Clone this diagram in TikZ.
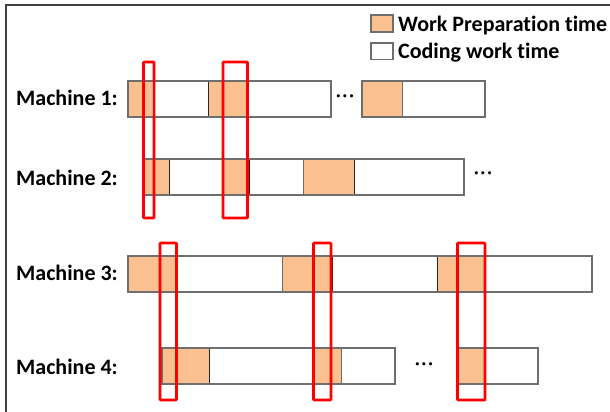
\documentclass[tikz,border=0pt]{standalone}
\usepackage{fontspec}
\setmainfont{Carlito}[Ligatures=CommonOff]
\definecolor{prepfill}{HTML}{FAC090}
\definecolor{barline}{HTML}{6E6E6E}
\definecolor{frameline}{HTML}{404040}
\begin{document}
\begin{tikzpicture}[x=1pt,y=-1pt,
  prep/.style={fill=prepfill},
  barbox/.style={draw=barline,line width=1.1pt},
  sepline/.style={draw=black!85,line width=1pt},
  window/.style={draw=red,line width=2.6pt,rounded corners=0.6pt},
  lbl/.style={font=\fontsize{22}{25}\selectfont\bfseries,anchor=base west,inner sep=0pt},
  dots/.style={font=\fontsize{20}{22}\selectfont\boldmath,inner sep=0pt,text=black},
  legbox/.style={draw=barline,line width=1.1pt}]
\useasboundingbox (0,0) rectangle (610,412);
% frame (top and left edges)
\draw[frameline,line width=1.5pt] (6,412) -- (6,5) -- (610,5);

% legend
\draw[legbox,prep] (371,15) rectangle (393,32);
\draw[legbox,fill=white] (371,43) rectangle (393,59.5);
\node[lbl] (legA) at (398,31.5) {Work Preparation time};
\node[lbl] (legB) at (398,59) {Coding work time};

% machine labels
\node[lbl] (m1) at (16,105.5) {Machine 1:};
\node[lbl] (m2) at (16,185) {Machine 2:};
\node[lbl] (m3) at (16,280) {Machine 3:};
\node[lbl] (m4) at (16,374) {Machine 4:};

% Machine 1
\fill[prep] (128,81) rectangle (152,117);
\fill[prep] (208,81) rectangle (247,117);
\draw[sepline] (208,81) -- (208,117);
\draw[sepline] (247,81) -- (247,117);
\draw[barbox] (128,81) rectangle (331,117);
\fill[prep] (362,81) rectangle (402,117);
\draw[sepline,draw=barline] (402,81) -- (402,117);
\draw[barbox] (362,81) rectangle (485,117);
\node[dots] (d1) at (345,97) {${\cdot}{\cdot}{\cdot}$};

% Machine 2
\fill[prep] (144,159) rectangle (169,195);
\fill[prep] (223,159) rectangle (249,195);
\fill[prep] (303,159) rectangle (354,195);
\draw[sepline] (169,159) -- (169,195);
\draw[sepline] (249,159) -- (249,195);
\draw[sepline,draw=barline] (303,159) -- (303,195);
\draw[sepline] (354,159) -- (354,195);
\draw[barbox] (144,159) rectangle (464,195);
\node[dots] (d2) at (483,174) {${\cdot}{\cdot}{\cdot}$};

% Machine 3
\fill[prep] (128,256) rectangle (177,292);
\fill[prep] (282,256) rectangle (332,292);
\fill[prep] (437,256) rectangle (485,292);
\draw[sepline] (177,256) -- (177,292);
\draw[sepline,draw=barline] (282,256) -- (282,292);
\draw[sepline] (332,256) -- (332,292);
\draw[sepline] (437,256) -- (437,292);
\draw[barbox] (128,256) rectangle (592,292);

% Machine 4
\fill[prep] (162,348) rectangle (209,384);
\fill[prep] (314,348) rectangle (341,384);
\draw[sepline] (209,348) -- (209,384);
\draw[sepline,draw=barline] (341,348) -- (341,384);
\draw[barbox] (162,348) rectangle (395,384);
\fill[prep] (458,348) rectangle (485,384);
\draw[barbox] (458,348) rectangle (538,384);
\node[dots] (d4) at (424,365) {${\cdot}{\cdot}{\cdot}$};

% red windows
\draw[window] (143.5,62) rectangle (154,218);
\draw[window] (223,62) rectangle (247.5,218);
\draw[window] (160,243) rectangle (176.5,400);
\draw[window] (313.5,243) rectangle (331,400);
\draw[window] (457.5,243) rectangle (485,400);
\end{tikzpicture}
\end{document}
